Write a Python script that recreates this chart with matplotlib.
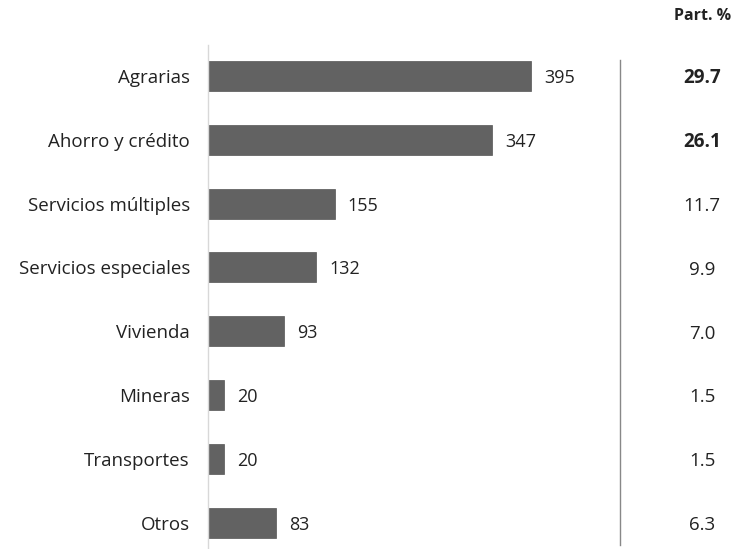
import matplotlib
matplotlib.use("Agg")
import matplotlib.pyplot as plt
from matplotlib.lines import Line2D

categories = ["Agrarias", "Ahorro y crédito", "Servicios múltiples", "Servicios especiales",
              "Vivienda", "Mineras", "Transportes", "Otros"]
values = [395, 347, 155, 132, 93, 20, 20, 83]
shares = ["29.7", "26.1", "11.7", "9.9", "7.0", "1.5", "1.5", "6.3"]
bold_shares = [True, True, False, False, False, False, False, False]

plt.rcParams['font.family'] = ['Open Sans', 'DejaVu Sans']

W, H = 737, 549
fig = plt.figure(figsize=(W / 100, H / 100), dpi=100)
left_px, top_px, bottom_px = 208, 45, 549
px_per_unit = 0.818
ax = fig.add_axes([left_px / W, 0, (W - left_px) / W, (bottom_px - top_px) / H])
ax.set_xlim(0, (W - left_px) / px_per_unit)
ax.set_ylim(7.41, -0.485)

y = list(range(len(categories)))
ax.barh(y, values, height=0.47, color="#626262", edgecolor="#555555", linewidth=0.5)
for yi, v in zip(y, values):
    ax.text(v + 13 / px_per_unit, yi + 0.03, str(v), va="center", ha="left", fontsize=13, color="#222222")

ax.set_yticks(y)
ax.set_yticklabels(categories, fontsize=13.5, color="#222222")
ax.tick_params(axis="y", length=0, pad=13)
ax.set_xticks([])
for s in ["top", "right", "bottom"]:
    ax.spines[s].set_visible(False)
ax.spines["left"].set_color("#d8d8d8")
ax.spines["left"].set_linewidth(1)

# separator line
fig.add_artist(Line2D([620 / W, 620 / W], [1 - 60 / H, 1 - 545 / H], color="#888888", linewidth=1))

# share column
fig.text(703 / W, 1 - 16 / H, "Part. %", ha="center", va="center", fontsize=11.5, fontweight="bold", color="#222222")
for yi, s, b in zip(y, shares, bold_shares):
    ypix = 78 + yi * 63.9
    fig.text(702 / W, 1 - ypix / H, s, ha="center", va="center", fontsize=13.5,
             fontweight="bold" if b else "normal", color="#222222")

fig.savefig("out.png", dpi=100)
